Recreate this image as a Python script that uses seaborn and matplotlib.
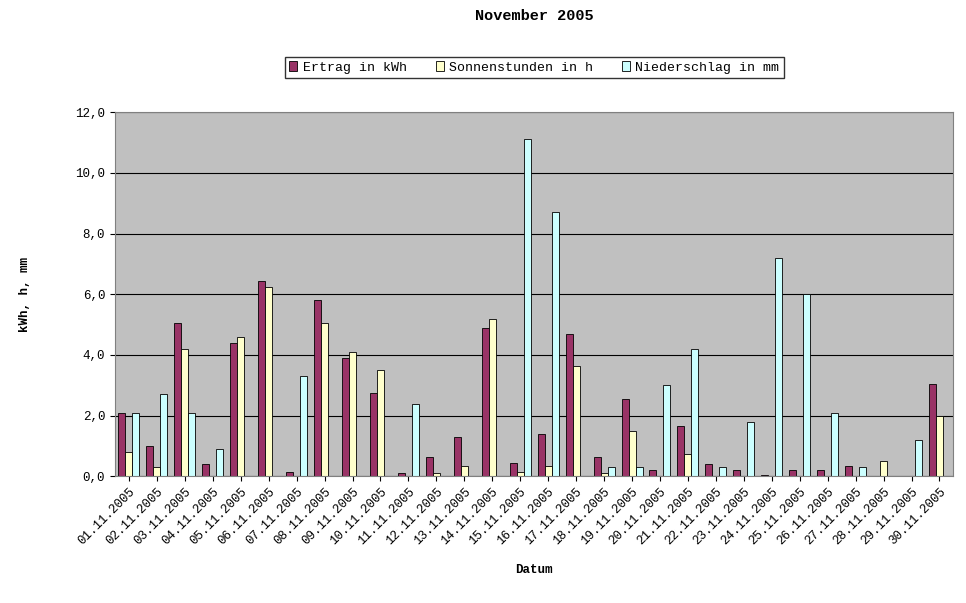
import pandas as pd
import matplotlib.pyplot as plt
import seaborn as sns

days = [f'{d:02d}.11.2005' for d in range(1, 31)]
ertrag = [2.1, 1.0, 5.05, 0.4, 4.4, 6.45, 0.15, 5.8, 3.9, 2.75, 0.1, 0.65, 1.3, 4.9, 0.45,
          1.4, 4.7, 0.65, 2.55, 0.2, 1.65, 0.4, 0.2, 0.05, 0.2, 0.2, 0.35, 0.0, 0.02, 3.05]
sonne = [0.8, 0.3, 4.2, 0.0, 4.6, 6.25, 0.0, 5.05, 4.1, 3.5, 0.0, 0.1, 0.35, 5.2, 0.15,
         0.35, 3.65, 0.1, 1.5, 0.0, 0.75, 0.0, 0.0, 0.0, 0.0, 0.0, 0.0, 0.5, 0.0, 2.0]
nieder = [2.1, 2.7, 2.1, 0.9, 0.0, 0.0, 3.3, 0.0, 0.0, 0.0, 2.4, 0.0, 0.0, 0.0, 11.1,
          8.7, 0.0, 0.3, 0.3, 3.0, 4.2, 0.3, 1.8, 7.2, 6.0, 2.1, 0.3, 0.0, 1.2, 0.0]
series = ['Ertrag in kWh', 'Sonnenstunden in h', 'Niederschlag in mm']

df = pd.DataFrame({'Datum': days * 3,
                   'Wert': ertrag + sonne + nieder,
                   'Serie': [series[0]] * 30 + [series[1]] * 30 + [series[2]] * 30})

plt.rcParams['font.family'] = ['Liberation Mono', 'DejaVu Sans Mono']
fig, ax = plt.subplots(figsize=(9.66, 6.03), dpi=100)
fig.subplots_adjust(left=0.119, right=0.987, top=0.814, bottom=0.21)
ax.set_facecolor('#C0C0C0')
ax.set_axisbelow(True)
ax.grid(axis='y', color='black', linewidth=0.8)

sns.barplot(data=df, x='Datum', y='Wert', hue='Serie', ax=ax, width=0.75,
            palette=['#993366', '#FFFFCC', '#CCFFFF'], edgecolor='black', linewidth=0.6,
            saturation=1)

ax.set_ylim(0, 12)
ax.set_yticks(range(0, 13, 2))
ax.set_yticklabels([f'{v},0' for v in range(0, 13, 2)], fontsize=9)
ax.set_xlim(-0.5, 29.5)
ax.tick_params(axis='x', labelrotation=45, labelsize=9)
for lab in ax.get_xticklabels():
    lab.set_ha('right')
    lab.set_rotation_mode('anchor')
ax.set_xlabel('Datum', fontsize=9, fontweight='bold', labelpad=12)
ax.set_ylabel('kWh, h, mm', fontsize=9, fontweight='bold', labelpad=32)
ax.set_title('November 2005', fontsize=11, fontweight='bold', pad=66)
for s in ax.spines.values():
    s.set_color('gray')

ax.legend(loc='lower center', bbox_to_anchor=(0.5, 1.075), ncol=3, fontsize=9.5,
          frameon=True, fancybox=False, edgecolor='black', handlelength=0.6,
          handletextpad=0.4, columnspacing=2.2, borderpad=0.35)

plt.savefig('out.png')
